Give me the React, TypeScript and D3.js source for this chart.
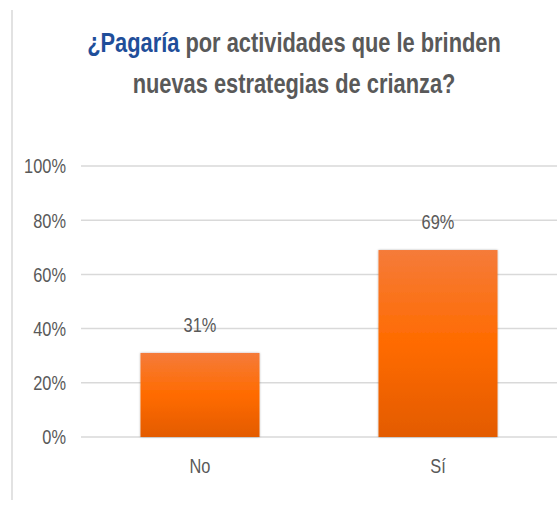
import React from "react";
import * as d3 from "d3";

const categories = ["No", "Sí"];
const values = [0.31, 0.69];
const valueLabels = ["31%", "69%"];
const yTicks = [0, 0.2, 0.4, 0.6, 0.8, 1.0];
const titleLine1Blue = "¿Pagaría";
const titleLine1Rest = " por actividades que le brinden";
const titleLine2 = "nuevas estrategias de crianza?";

const FONT = "'Liberation Sans', Arial, sans-serif";

function NText({ x, y, sx = 0.78, anchor = "middle", size = 21, weight = "normal", fill = "#595959", children }: any) {
  return (
    <text transform={`translate(${x},${y}) scale(${sx},1)`} dy="0.35em" textAnchor={anchor} fontFamily={FONT} fontSize={size} fontWeight={weight} fill={fill}>
      {children}
    </text>
  );
}

export default function App() {
  const W = 560, H = 510;
  const left = 81, right = 557, top = 166, bottom = 437;
  const x = d3.scaleBand<string>().domain(categories).range([left, right]).paddingInner(0.5).paddingOuter(0.25);
  const y = d3.scaleLinear().domain([0, 1]).range([bottom, top]);
  const fmt = d3.format(".0%");
  return (
    <svg width={W} height={H} style={{ position: "absolute", left: 0, top: 0, background: "#fff" }}>
      <defs>
        <linearGradient id="barGrad" x1="0" y1="0" x2="0" y2="1">
          <stop offset="0%" stopColor="#F57B3A" />
          <stop offset="50%" stopColor="#FF6B00" />
          <stop offset="100%" stopColor="#E35B00" />
        </linearGradient>
        <filter id="shadow" x="-10%" y="-10%" width="120%" height="120%">
          <feDropShadow dx="0" dy="0" stdDeviation="1.2" floodColor="#000" floodOpacity="0.3" />
        </filter>
      </defs>
      <line x1={12} x2={12} y1={10} y2={500} stroke="#d9d9d9" strokeWidth={1.5} />
      <NText x={294} y={42} sx={0.78} size={28} weight="bold">
        <tspan fill="#1F4E9A">{titleLine1Blue}</tspan>
        <tspan>{titleLine1Rest}</tspan>
      </NText>
      <NText x={294} y={83} sx={0.78} size={28} weight="bold">
        {titleLine2}
      </NText>
      {yTicks.map((t) => (
        <g key={t}>
          <line x1={left} x2={right} y1={y(t)} y2={y(t)} stroke="#d9d9d9" strokeWidth={1.5} />
          <NText x={66} y={y(t)} anchor="end">{fmt(t)}</NText>
        </g>
      ))}
      {categories.map((c, i) => (
        <g key={c}>
          <rect x={x(c)!} y={y(values[i])} width={x.bandwidth()} height={bottom - y(values[i])} fill="url(#barGrad)" filter="url(#shadow)" />
          <NText x={x(c)! + x.bandwidth() / 2} y={y(values[i]) - 28}>{valueLabels[i]}</NText>
          <NText x={x(c)! + x.bandwidth() / 2} y={466}>{c}</NText>
        </g>
      ))}
    </svg>
  );
}
